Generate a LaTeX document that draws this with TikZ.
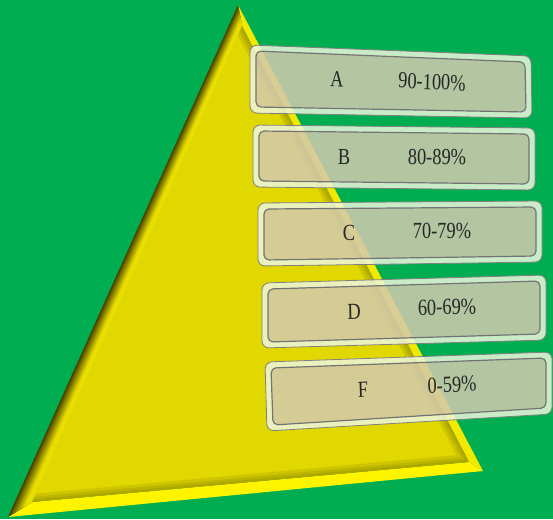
\documentclass[tikz,border=0pt]{standalone}
\usepackage{fontspec}
\setmainfont{Liberation Serif}
\usetikzlibrary{calc}
\definecolor{bggreen}{RGB}{0,173,80}
\definecolor{faceyellow}{RGB}{224,216,0}
\definecolor{bevelyellow}{RGB}{232,222,0}
\definecolor{bevellight}{RGB}{255,244,0}
\definecolor{bevelright}{RGB}{243,233,0}
\definecolor{bevelolive}{RGB}{72,66,0}
\definecolor{rimcream}{RGB}{238,246,222}
\definecolor{facegrey}{RGB}{212,202,176}
\tikzset{
  boxrim/.style={fill=rimcream, fill opacity=0.85},
  boxface/.style={fill=facegrey, fill opacity=0.85},
  boxedge/.style={draw=black!50, line width=0.8pt},
  boxinner/.style={draw=black!55, line width=1.2pt},
  gradetext/.style={font=\fontsize{23}{26}\selectfont, text=black!85, inner sep=0pt, xscale=0.8, transform shape},
}
% grade box: top left, top right, bottom right, bottom left
\newcommand{\gradebox}[4]{%
  \fill[boxrim, even odd rule, rounded corners=7pt] #1 -- #2 -- #3 -- #4 -- cycle
    ($#1+(6,6)$) -- ($#2+(-6,6)$) -- ($#3+(-6,-6)$) -- ($#4+(6,-6)$) -- cycle;
  \draw[boxedge, rounded corners=7pt] #1 -- #2 -- #3 -- #4 -- cycle;
  \fill[boxface, rounded corners=5pt] ($#1+(6,6)$) -- ($#2+(-6,6)$) -- ($#3+(-6,-6)$) -- ($#4+(6,-6)$) -- cycle;
  \draw[boxinner, rounded corners=5pt] ($#1+(6,6)$) -- ($#2+(-6,6)$) -- ($#3+(-6,-6)$) -- ($#4+(6,-6)$) -- cycle;
}

\begin{document}
\begin{tikzpicture}[x=1pt, y=-1pt]
  \fill[bggreen] (0,0) rectangle (553,519);
  \useasboundingbox (0,0) rectangle (553,519);

  % pyramid corners, outer and inner
  \coordinate (oA) at (238,5);
  \coordinate (oL) at (8,517);
  \coordinate (oR) at (483,471);
  \coordinate (iA) at (242,26);
  \coordinate (iL) at (32,502);
  \coordinate (iR) at (469,462);

  % bevels
  \fill[bevellight] (oL) -- (oR) -- (iR) -- (iL) -- cycle;
  \fill[bevelright] (oR) -- (oA) -- (iA) -- (iR) -- cycle;
  \foreach \k in {0,...,9} {
    \pgfmathsetmacro{\ka}{\k/10}
    \pgfmathtruncatemacro{\mix}{min(100,\k*15)}
    \fill[bevelyellow!\mix!bevelolive] ($(oA)!\ka!(iA)$) -- ($(oL)!\ka!(iL)$) -- (iL) -- (iA) -- cycle;
  }
  \fill[faceyellow] (iA) -- (iL) -- (iR) -- cycle;
  \begin{scope}
    \clip (iA) -- (iL) -- (iR) -- cycle;
    \foreach \w in {16,10,5} {
      \draw[bevelolive, line width=\w pt, opacity=0.12] (iL) -- (iR) -- (iA);
    }
  \end{scope}

  % grade boxes
  \gradebox{(250,45)}{(531,56)}{(532,118)}{(250,113)}
  \gradebox{(253,125)}{(535,128)}{(535,190)}{(253,187)}
  \gradebox{(258,203)}{(542,201)}{(542,262)}{(258,266)}
  \gradebox{(262,283)}{(546,275)}{(546,340)}{(262,348)}
  \gradebox{(265,362)}{(552,352)}{(552,414)}{(267,431)}

  % labels
  \node[gradetext, rotate=-2.2] (gradeA) at (337,79) {A};
  \node[gradetext, rotate=-2.2] (rangeA) at (432,82) {90-100\%};
  \node[gradetext, rotate=-0.6] (gradeB) at (344,157) {B};
  \node[gradetext, rotate=-0.6] (rangeB) at (437,157) {80-89\%};
  \node[gradetext, rotate=0.4] (gradeC) at (349,233) {C};
  \node[gradetext, rotate=0.4] (rangeC) at (442,231) {70-79\%};
  \node[gradetext, rotate=1.4] (gradeD) at (354,312) {D};
  \node[gradetext, rotate=1.4] (rangeD) at (447,307) {60-69\%};
  \node[gradetext, rotate=2.5] (gradeF) at (363,390) {F};
  \node[gradetext, rotate=2.5] (rangeF) at (452,385) {0-59\%};
\end{tikzpicture}
\end{document}
